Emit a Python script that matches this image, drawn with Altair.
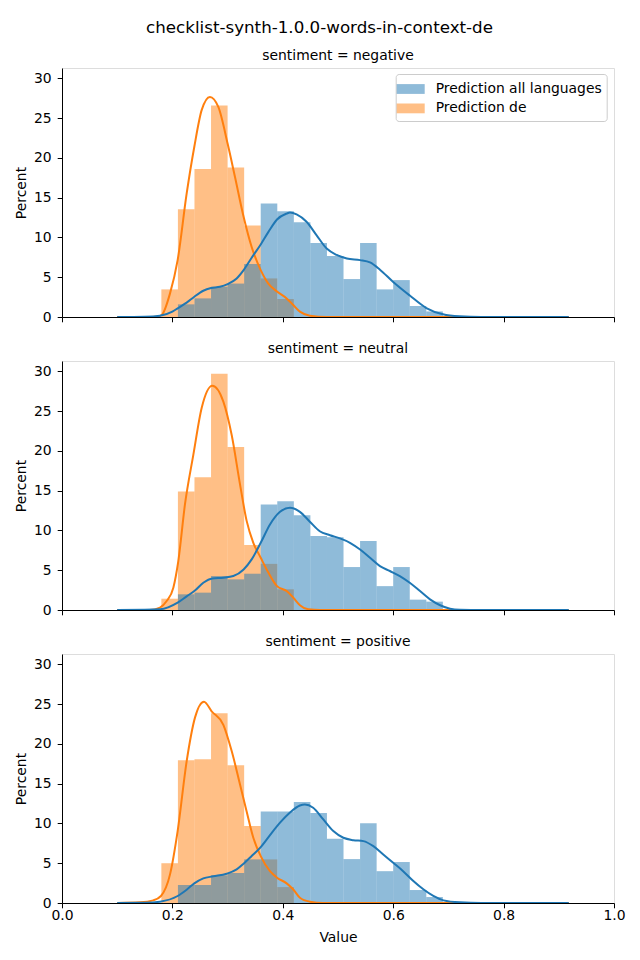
import altair as alt
import pandas as pd

TITLE = "checklist-synth-1.0.0-words-in-context-de"
panels = ["negative", "neutral", "positive"]
series = ["Prediction all languages", "Prediction de"]
colors = ["#1f77b4", "#ff7f0e"]

# histogram bin edges (17 bins of width 0.03)
bin_edges = [0.18, 0.21, 0.24, 0.27, 0.30, 0.33, 0.36, 0.39, 0.42, 0.45,
             0.48, 0.51, 0.54, 0.57, 0.60, 0.63, 0.66, 0.69]

# percent per bin
neg_all = [0, 1.59, 2.34, 3.8, 4.2, 6.65, 14.27, 13.3, 11.9, 9.3, 7.66, 4.77, 9.3, 3.47, 4.64, 1.38, 0.7]
neg_de = [3.47, 13.56, 18.6, 26.6, 18.8, 11.5, 4.85, 2.26, 0, 0, 0, 0, 0, 0, 0, 0, 0]
neu_all = [0, 1.97, 2.18, 4.27, 3.85, 4.56, 13.26, 13.68, 11.92, 9.29, 9.16, 5.4, 8.66, 3.0, 5.4, 1.3, 1.05]
neu_de = [1.42, 14.9, 16.7, 29.7, 20.5, 8.16, 5.8, 2.6, 0, 0, 0, 0, 0, 0, 0, 0, 0]
pos_all = [0, 2.26, 2.26, 3.47, 3.77, 5.48, 11.5, 11.5, 12.7, 11.3, 8.07, 5.52, 10.04, 4.0, 5.15, 1.63, 0.75]
pos_de = [5.0, 17.95, 18.07, 23.85, 17.3, 9.67, 5.48, 2.0, 0, 0, 0, 0, 0, 0, 0, 0, 0]

# KDE curves
neg_all_kx = [0.10, 0.15, 0.1775, 0.20, 0.2095, 0.2258, 0.2397, 0.256, 0.27, 0.286, 0.300, 0.3164, 0.329, 0.3436,
              0.36, 0.374, 0.3895, 0.407, 0.413, 0.425, 0.443, 0.461, 0.4795, 0.4976, 0.516, 0.54, 0.558, 0.576,
              0.60, 0.63, 0.66, 0.69, 0.72, 0.76, 0.918]
neg_all_ky = [0, 0.04, 0.17, 0.67, 1.09, 1.8, 2.55, 3.3, 3.64, 3.8, 4.14, 4.85, 5.9, 7.45,
              9.12, 10.7, 12.26, 13.0, 13.14, 12.9, 11.97, 10.3, 8.6, 7.8, 7.36, 7.15, 6.86, 5.95,
              4.4, 2.7, 1.13, 0.34, 0.08, 0, 0]
neg_de_kx = [0.10, 0.15, 0.1715, 0.1806, 0.1957, 0.2095, 0.2258, 0.2397, 0.253, 0.268, 0.2832, 0.300, 0.3134,
             0.329, 0.3436, 0.36, 0.3738, 0.3895, 0.407, 0.419, 0.431, 0.449, 0.479, 0.918]
neg_de_ky = [0, 0, 0.03, 0.25, 2.97, 7.15, 15.5, 21.4, 26.0, 27.66, 26.4, 21.8, 17.6,
             12.6, 8.8, 5.9, 4.2, 3.2, 2.34, 1.5, 0.67, 0.17, 0, 0]
neu_all_kx = [0.10, 0.15, 0.1775, 0.2095, 0.2258, 0.2397, 0.256, 0.2723, 0.2923, 0.3104, 0.329, 0.3436, 0.36,
              0.3768, 0.395, 0.413, 0.431, 0.449, 0.467, 0.4855, 0.5036, 0.5217, 0.54, 0.558, 0.576, 0.594,
              0.612, 0.630, 0.6486, 0.6667, 0.685, 0.703, 0.721, 0.76, 0.918]
neu_all_ky = [0, 0.02, 0.08, 0.92, 1.72, 2.38, 3.43, 3.97, 4.06, 4.27, 5.1, 6.36, 8.45,
              10.75, 12.34, 12.85, 12.34, 11.1, 9.9, 9.4, 9.0, 8.45, 7.6, 6.57, 5.52, 4.9,
              4.27, 3.43, 2.38, 1.34, 0.6, 0.17, 0.04, 0, 0]
neu_de_kx = [0.10, 0.159, 0.1775, 0.1896, 0.2017, 0.2107, 0.2228, 0.2379, 0.253, 0.2723, 0.2923, 0.3074, 0.3225,
             0.3345, 0.3466, 0.36, 0.3738, 0.3895, 0.407, 0.419, 0.431, 0.446, 0.467, 0.918]
neu_de_ky = [0, 0, 0.3, 1.13, 2.8, 6.15, 13.3, 19.5, 25.4, 28.2, 26.2, 22.0, 15.8,
             11.2, 8.45, 6.57, 4.7, 3.0, 2.38, 1.55, 0.6, 0.08, 0, 0]
pos_all_kx = [0.10, 0.15, 0.1775, 0.2095, 0.2258, 0.2397, 0.256, 0.274, 0.2983, 0.3164, 0.329, 0.3436, 0.36,
              0.3768, 0.395, 0.413, 0.431, 0.440, 0.455, 0.4734, 0.4915, 0.5097, 0.5278, 0.546, 0.564, 0.582,
              0.600, 0.618, 0.6365, 0.6546, 0.6727, 0.691, 0.721, 0.76, 0.918]
pos_all_ky = [0, 0.03, 0.17, 0.88, 1.67, 2.47, 3.1, 3.35, 3.68, 4.23, 4.94, 5.9, 7.03,
              8.54, 10.1, 11.38, 12.26, 12.38, 11.97, 10.5, 9.04, 8.2, 7.9, 7.78, 7.15, 6.1,
              5.06, 4.0, 2.76, 1.72, 0.88, 0.33, 0.08, 0, 0]
pos_de_kx = [0.10, 0.1413, 0.1655, 0.1793, 0.1957, 0.2095, 0.2258, 0.2409, 0.2572, 0.2711, 0.2923, 0.3074,
             0.3225, 0.3345, 0.3466, 0.36, 0.3768, 0.3895, 0.407, 0.419, 0.431, 0.449, 0.473, 0.918]
pos_de_ky = [0, 0.08, 0.33, 0.88, 3.6, 9.04, 17.8, 23.3, 25.3, 24.1, 22.4, 19.1,
             14.9, 11.5, 8.2, 5.9, 4.0, 3.18, 2.47, 1.7, 0.67, 0.17, 0, 0]

hists = {
    "negative": (neg_all, neg_de),
    "neutral": (neu_all, neu_de),
    "positive": (pos_all, pos_de),
}
kdes = {
    "negative": ((neg_all_kx, neg_all_ky), (neg_de_kx, neg_de_ky)),
    "neutral": ((neu_all_kx, neu_all_ky), (neu_de_kx, neu_de_ky)),
    "positive": ((pos_all_kx, pos_all_ky), (pos_de_kx, pos_de_ky)),
}

FONT = "DejaVu Sans"
FS = 13.9

x_scale = alt.Scale(domain=[0, 1], nice=False, zero=False)
y_scale = alt.Scale(domain=[0, 31.3], nice=False)
color_scale = alt.Scale(domain=series, range=colors)


def x_axis(show):
    return alt.Axis(values=[0, 0.2, 0.4, 0.6, 0.8, 1.0], format=".1f", labels=show,
                    title="Value" if show else None, grid=False, domainColor="black",
                    tickColor="black", tickSize=4.8, labelFontSize=FS, labelPadding=0.7,
                    titleFontSize=FS, titlePadding=8.3, labelFlush=False, zindex=1,
                    labelColor="black", titleColor="black", titleFontWeight="normal",
                    labelFont=FONT, titleFont=FONT)


y_axis = alt.Axis(values=[0, 5, 10, 15, 20, 25, 30], title="Percent", grid=False,
                  domainColor="black", tickColor="black", tickSize=4.8, labelFontSize=FS,
                  labelPadding=6, titleFontSize=FS, titlePadding=5.5, labelFlush=False,
                  zindex=1, labelColor="black", titleColor="black", titleFontWeight="normal",
                  labelFont=FONT, titleFont=FONT)

legend = alt.Legend(title=None, orient="none", legendX=333.7, legendY=6,
                    symbolType="M-1.4,-0.49L1.4,-0.49L1.4,0.49L-1.4,0.49Z", symbolSize=400,
                    symbolOpacity=0.5, symbolStrokeWidth=0, labelFontSize=FS, labelFont=FONT,
                    labelColor="black", labelOffset=15, labelLimit=0, padding=5, rowPadding=2.4,
                    strokeColor="#cccccc", fillColor="white", cornerRadius=3)


def panel(name, show_x, show_legend):
    all_pct, de_pct = hists[name]
    layers = []
    for s_idx in (1, 0):  # orange drawn first, blue on top
        pct = (all_pct, de_pct)[s_idx]
        rows = [{"lo": bin_edges[i], "hi": bin_edges[i + 1], "pct": p, "base": 0,
                 "series": series[s_idx]} for i, p in enumerate(pct) if p > 0]
        df = pd.DataFrame(rows)
        layers.append(
            alt.Chart(df).mark_rect(opacity=0.5, strokeWidth=0).encode(
                x=alt.X("lo:Q", scale=x_scale, axis=x_axis(show_x)),
                x2="hi:Q",
                y=alt.Y("pct:Q", scale=y_scale, axis=y_axis),
                y2="base:Q",
                color=alt.Color("series:N", scale=color_scale,
                                legend=legend if show_legend else None),
            )
        )
    for s_idx in (1, 0):
        kx, ky = kdes[name][s_idx]
        df = pd.DataFrame({"x": kx, "y": ky})
        layers.append(
            alt.Chart(df).mark_line(strokeWidth=2, interpolate="monotone",
                                    color=colors[s_idx]).encode(
                x=alt.X("x:Q", scale=x_scale, axis=x_axis(show_x)),
                y=alt.Y("y:Q", scale=y_scale, axis=y_axis),
                order="x:Q",
            )
        )
    return alt.layer(*layers).properties(
        width=552, height=249,
        title=alt.TitleParams(f"sentiment = {name}", fontSize=FS, fontWeight="normal",
                              anchor="middle", offset=5, color="black", font=FONT),
    )


chart = alt.vconcat(
    panel("negative", False, True),
    panel("neutral", False, False),
    panel("positive", True, False),
    spacing=16,
).resolve_scale(color="independent").properties(
    title=alt.TitleParams(TITLE, fontSize=16.7, fontWeight="normal", anchor="middle",
                          offset=12, color="black", font=FONT),
    padding={"left": 5, "top": 11, "right": 5, "bottom": 5},
).configure_view(stroke=None).configure(font=FONT)

chart.save("out.html", embed_options={"renderer": "svg", "actions": False})
